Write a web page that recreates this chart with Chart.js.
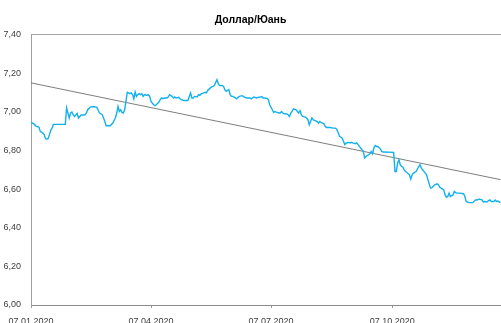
<!DOCTYPE html>
<html>
<head>
<meta charset="utf-8">
<script src="https://cdn.jsdelivr.net/npm/chart.js@4.4.1/dist/chart.umd.min.js"></script>
<style>
  html, body { margin: 0; padding: 0; background: #ffffff; overflow: hidden; }
  #wrap { width: 501px; height: 323px; }
</style>
</head>
<body>
<div id="wrap"><canvas id="chart" width="501" height="323"></canvas></div>
<script>
// USD/CNY daily fixing, 2020
const chartTitle = 'Доллар/Юань';
const startDate = '07.01.2020';
const dates = [
  '07.01.2020','09.01.2020','11.01.2020','13.01.2020','14.01.2020','16.01.2020','17.01.2020','18.01.2020','19.01.2020','20.01.2020',
  '21.01.2020','22.01.2020','23.01.2020','24.01.2020','02.02.2020','03.02.2020','04.02.2020','05.02.2020','06.02.2020','07.02.2020',
  '08.02.2020','09.02.2020','11.02.2020','12.02.2020','13.02.2020','14.02.2020','16.02.2020','17.02.2020','18.02.2020','19.02.2020',
  '21.02.2020','23.02.2020','26.02.2020','27.02.2020','28.02.2020','01.03.2020','02.03.2020','03.03.2020','04.03.2020','07.03.2020',
  '09.03.2020','11.03.2020','12.03.2020','13.03.2020','14.03.2020','15.03.2020','16.03.2020','17.03.2020','18.03.2020','19.03.2020',
  '20.03.2020','21.03.2020','22.03.2020','23.03.2020','24.03.2020','25.03.2020','26.03.2020','27.03.2020','28.03.2020','29.03.2020',
  '30.03.2020','31.03.2020','01.04.2020','02.04.2020','04.04.2020','05.04.2020','06.04.2020','07.04.2020','09.04.2020','10.04.2020',
  '11.04.2020','13.04.2020','14.04.2020','15.04.2020','16.04.2020','18.04.2020','19.04.2020','20.04.2020','21.04.2020','23.04.2020',
  '24.04.2020','25.04.2020','26.04.2020','28.04.2020','29.04.2020','30.04.2020','02.05.2020','05.05.2020','07.05.2020','08.05.2020',
  '09.05.2020','10.05.2020','12.05.2020','13.05.2020','14.05.2020','15.05.2020','17.05.2020','18.05.2020','19.05.2020','20.05.2020',
  '22.05.2020','23.05.2020','24.05.2020','25.05.2020','27.05.2020','28.05.2020','29.05.2020','31.05.2020','01.06.2020','02.06.2020',
  '03.06.2020','05.06.2020','06.06.2020','07.06.2020','08.06.2020','10.06.2020','11.06.2020','12.06.2020','13.06.2020','15.06.2020',
  '16.06.2020','17.06.2020','19.06.2020','21.06.2020','22.06.2020','24.06.2020','25.06.2020','26.06.2020','27.06.2020','29.06.2020',
  '30.06.2020','01.07.2020','02.07.2020','04.07.2020','05.07.2020','06.07.2020','08.07.2020','09.07.2020','10.07.2020','11.07.2020',
  '13.07.2020','14.07.2020','15.07.2020','16.07.2020','17.07.2020','18.07.2020','19.07.2020','20.07.2020','21.07.2020','22.07.2020',
  '23.07.2020','24.07.2020','26.07.2020','27.07.2020','28.07.2020','29.07.2020','30.07.2020','31.07.2020','02.08.2020','03.08.2020',
  '04.08.2020','05.08.2020','06.08.2020','07.08.2020','08.08.2020','09.08.2020','11.08.2020','12.08.2020','13.08.2020','14.08.2020',
  '15.08.2020','16.08.2020','17.08.2020','18.08.2020','21.08.2020','23.08.2020','25.08.2020','26.08.2020','27.08.2020','28.08.2020',
  '30.08.2020','31.08.2020','01.09.2020','02.09.2020','04.09.2020','05.09.2020','06.09.2020','07.09.2020','09.09.2020','10.09.2020',
  '11.09.2020','12.09.2020','14.09.2020','15.09.2020','16.09.2020','17.09.2020','19.09.2020','20.09.2020','21.09.2020','22.09.2020',
  '23.09.2020','24.09.2020','25.09.2020','26.09.2020','28.09.2020','29.09.2020','30.09.2020','08.10.2020','09.10.2020','10.10.2020',
  '11.10.2020','12.10.2020','13.10.2020','14.10.2020','15.10.2020','16.10.2020','17.10.2020','18.10.2020','20.10.2020','21.10.2020',
  '22.10.2020','23.10.2020','25.10.2020','26.10.2020','27.10.2020','28.10.2020','29.10.2020','30.10.2020','01.11.2020','02.11.2020',
  '03.11.2020','05.11.2020','06.11.2020','07.11.2020','08.11.2020','10.11.2020','11.11.2020','12.11.2020','13.11.2020','15.11.2020',
  '16.11.2020','17.11.2020','18.11.2020','19.11.2020','20.11.2020','22.11.2020','23.11.2020','24.11.2020','25.11.2020','27.11.2020',
  '30.11.2020','01.12.2020','02.12.2020','04.12.2020','07.12.2020','09.12.2020','10.12.2020','12.12.2020','14.12.2020','15.12.2020',
  '16.12.2020','18.12.2020','19.12.2020','20.12.2020','21.12.2020','23.12.2020','24.12.2020','25.12.2020','26.12.2020','28.12.2020'
];
const usdCny = [
  6.945,6.939,6.925,6.921,6.899,6.890,6.882,6.861,6.859,6.862,
  6.882,6.904,6.916,6.935,6.935,7.020,6.994,6.968,6.994,6.999,
  6.984,6.976,6.992,6.968,6.976,6.984,6.984,6.985,6.994,7.011,
  7.025,7.028,7.023,7.007,6.994,6.985,6.968,6.950,6.928,6.928,
  6.942,6.968,6.994,7.028,7.002,7.011,6.997,6.994,7.011,7.054,
  7.101,7.098,7.094,7.098,7.089,7.067,7.103,7.080,7.089,7.094,
  7.089,7.094,7.080,7.089,7.085,7.089,7.080,7.054,7.037,7.032,
  7.037,7.051,7.063,7.072,7.068,7.073,7.072,7.077,7.089,7.080,
  7.072,7.077,7.072,7.075,7.068,7.063,7.059,7.059,7.098,7.072,
  7.072,7.080,7.077,7.089,7.085,7.093,7.098,7.101,7.098,7.111,
  7.124,7.129,7.132,7.136,7.167,7.146,7.136,7.137,7.132,7.115,
  7.106,7.115,7.089,7.080,7.080,7.072,7.067,7.075,7.080,7.084,
  7.080,7.075,7.072,7.072,7.067,7.077,7.075,7.072,7.075,7.077,
  7.079,7.072,7.072,7.070,7.063,7.037,7.011,6.997,7.002,6.999,
  6.994,6.994,7.002,6.994,6.990,6.990,6.989,6.985,6.976,6.994,
  7.002,7.016,7.011,7.002,6.994,7.006,6.985,6.976,6.973,6.968,
  6.959,6.933,6.950,6.968,6.959,6.956,6.950,6.942,6.950,6.945,
  6.942,6.939,6.925,6.919,6.919,6.916,6.916,6.907,6.890,6.873,
  6.864,6.847,6.830,6.839,6.842,6.839,6.842,6.839,6.835,6.839,
  6.830,6.821,6.804,6.795,6.761,6.769,6.778,6.783,6.795,6.783,
  6.813,6.826,6.821,6.821,6.807,6.795,6.792,6.790,6.691,6.691,
  6.735,6.752,6.726,6.717,6.714,6.700,6.691,6.686,6.674,6.652,
  6.674,6.683,6.691,6.704,6.717,6.726,6.709,6.700,6.683,6.674,
  6.648,6.605,6.608,6.613,6.622,6.627,6.622,6.610,6.605,6.596,
  6.570,6.558,6.562,6.579,6.562,6.570,6.588,6.582,6.579,6.579,
  6.576,6.562,6.536,6.530,6.530,6.544,6.544,6.548,6.544,6.534,
  6.536,6.534,6.541,6.544,6.536,6.536,6.543,6.536,6.538,6.530
];
// linear trend line, start and end
const trendDates = ['07.01.2020', '28.12.2020'];
const trendValues = [7.150, 6.649];
// axis labels
const xTickLabels = ['07.01.2020', '07.04.2020', '07.07.2020', '07.10.2020'];
const yMin = 6.0, yMax = 7.4, yStep = 0.2;

function dayIndex(s) {
  const [d, m, y] = s.split('.').map(Number);
  const [d0, m0, y0] = startDate.split('.').map(Number);
  return Math.round((Date.UTC(y, m - 1, d) - Date.UTC(y0, m0 - 1, d0)) / 86400000);
}

const seriesPoints = dates.map((s, i) => ({ x: dayIndex(s), y: usdCny[i] }));
const trendPoints = trendDates.map((s, i) => ({ x: dayIndex(s), y: trendValues[i] }));
const xTickDays = xTickLabels.map(dayIndex);
const labelByDay = {};
xTickLabels.forEach((s, i) => { labelByDay[xTickDays[i]] = s; });

const FONT = "'Liberation Sans', Arial, sans-serif";

new Chart(document.getElementById('chart'), {
  type: 'line',
  data: {
    datasets: [
      {
        label: 'USD/CNY',
        data: seriesPoints,
        borderColor: '#12b1ee',
        borderWidth: 1.4,
        pointRadius: 0,
        tension: 0,
        fill: false
      },
      {
        label: 'Тренд',
        data: trendPoints,
        borderColor: '#6f6f6f',
        borderWidth: 0.9,
        pointRadius: 0,
        tension: 0,
        fill: false
      }
    ]
  },
  options: {
    responsive: false,
    animation: false,
    devicePixelRatio: 1,
    layout: { padding: { left: 0, right: 0, top: 0, bottom: 0 } },
    plugins: {
      legend: { display: false },
      tooltip: { enabled: false },
      title: {
        display: true,
        text: chartTitle,
        color: '#000000',
        font: { family: FONT, size: 10.5, weight: 'bold' },
        padding: { top: 14, bottom: 8 }
      }
    },
    scales: {
      x: {
        type: 'linear',
        min: 0,
        max: 356.4,
        afterBuildTicks: (scale) => { scale.ticks = xTickDays.map(v => ({ value: v })); },
        afterFit: (scale) => { scale.height = 18; },
        ticks: {
          autoSkip: false,
          maxRotation: 0,
          padding: 8,
          color: '#404040',
          font: { family: FONT, size: 9 },
          callback: (v) => labelByDay[v] || ''
        },
        grid: {
          drawOnChartArea: false,
          drawTicks: true,
          tickLength: 3,
          color: '#9a9a9a'
        },
        border: { display: true, color: '#8c8c8c', width: 1 }
      },
      y: {
        min: yMin,
        max: yMax,
        afterFit: (scale) => { scale.width = 31; },
        ticks: {
          stepSize: yStep,
          padding: 10,
          color: '#404040',
          font: { family: FONT, size: 9 },
          callback: (v) => Number(v).toFixed(2).replace('.', ',')
        },
        grid: {
          drawTicks: false,
          tickLength: 0,
          color: (ctx) => (ctx.tick && Math.abs(ctx.tick.value - yMax) < 1e-9) ? '#a6a6a6' : 'rgba(0,0,0,0)',
          lineWidth: 1
        },
        border: { display: true, color: '#a0a0a0', width: 1 }
      }
    }
  }
});
</script>
</body>
</html>
